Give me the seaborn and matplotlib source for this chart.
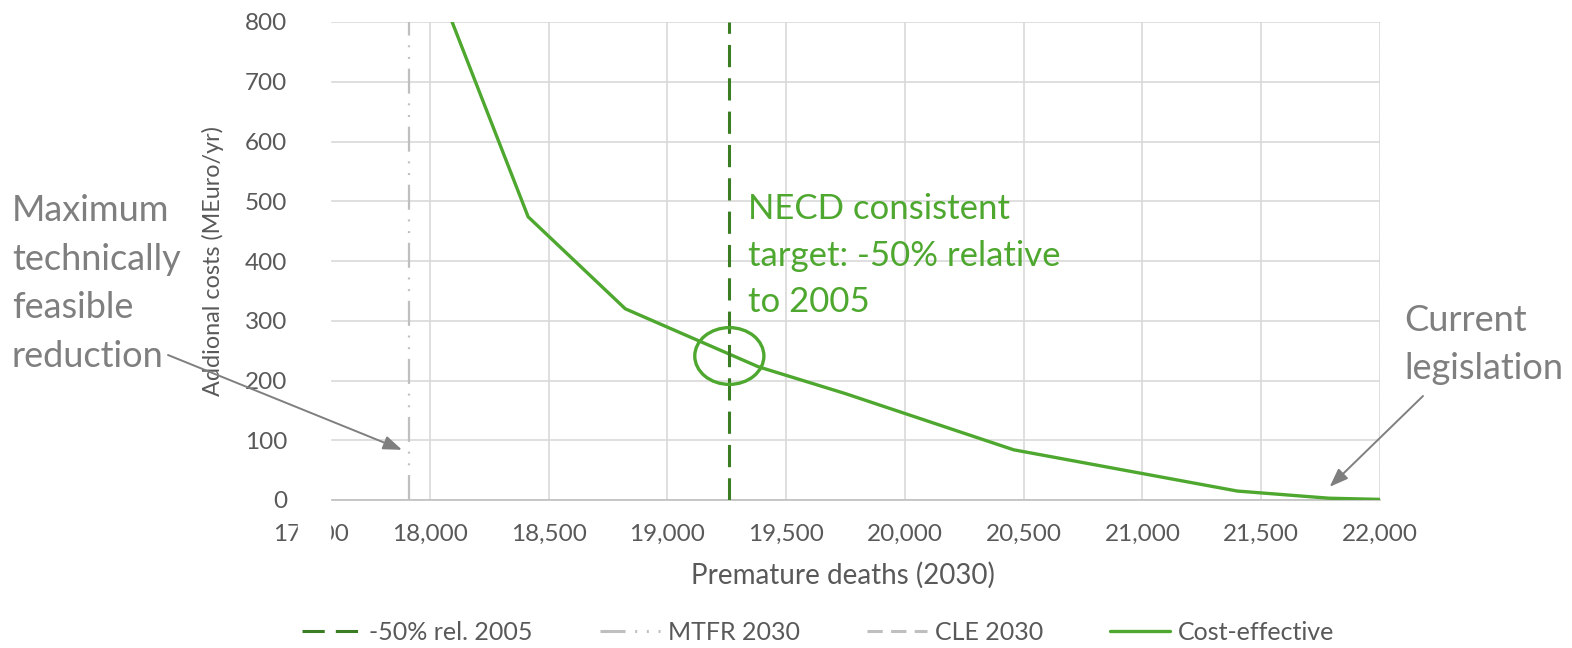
import matplotlib
matplotlib.use("Agg")
import matplotlib.pyplot as plt
import numpy as np
import pandas as pd
import seaborn as sns
from matplotlib.patches import Ellipse, Rectangle
from matplotlib.lines import Line2D

# ---- data ----
deaths = [17990, 18414, 18823, 19383, 19750, 20458, 21399, 21785, 22000]
costs = [906, 474, 320, 223, 178, 84, 15, 3, 1]
target_50 = 19261
mtfr_2030 = 17913
cle_2030 = 22000
x_ticks = list(range(17500, 22001, 500))
y_ticks = list(range(0, 801, 100))
legend_labels = ["-50% rel. 2005", "MTFR 2030", "CLE 2030", "Cost-effective"]

sns.set_theme(style="whitegrid")
plt.rcParams['font.family'] = ['Lato', 'DejaVu Sans']
plt.rcParams['lines.scale_dashes'] = False

GREEN = "#4EA72E"
DKGREEN = "#3B7D23"
LGRAY = "#BFBFBF"
TXT = "#595959"
ANN = "#7F7F7F"

W, H = 1572, 648
fig = plt.figure(figsize=(W / 100, H / 100), dpi=100)
ax = fig.add_axes([311 / W, 1 - 500 / H, (1380 - 311) / W, (500 - 22) / H])

df = pd.DataFrame({"deaths": deaths, "costs": costs})
sns.lineplot(data=df, x="deaths", y="costs", ax=ax, color=GREEN, lw=2.4,
             sort=False, zorder=3)

ax.axvline(target_50, color=DKGREEN, lw=2.2, dashes=(16, 8), zorder=3)
ax.axvline(mtfr_2030, color=LGRAY, lw=1.6, dashes=(18, 7, 1.4, 7, 1.4, 7), zorder=3)
# CLE line sits on the right border, hidden under the border gridline as in the original
ax.axvline(cle_2030, color=LGRAY, lw=0.8, dashes=(11, 6), zorder=0.4)

ax.set_xlim(17500, 22000)
ax.set_ylim(0, 800)
ax.set_xticks(x_ticks)
ax.set_yticks(y_ticks)
ax.xaxis.set_major_formatter(matplotlib.ticker.FuncFormatter(lambda v, p: f"{int(v):,}"))
ax.grid(True, color="#D9D9D9", lw=1.2)
for s in ["left", "right", "top"]:
    ax.spines[s].set_visible(False)
ax.spines["bottom"].set_color(LGRAY)
ax.spines["bottom"].set_linewidth(1.2)
ax.tick_params(axis="both", length=0, labelsize=17.5, colors=TXT)
ax.tick_params(axis="y", pad=17)
ax.tick_params(axis="x", pad=17)

ax.set_ylabel("Addional costs (MEuro/yr)", fontsize=16.8, color=TXT)
ax.yaxis.set_label_coords((224 - 311) / (1380 - 311), 0.5)
ax.set_xlabel("Premature deaths (2030)", fontsize=20, color=TXT)
ax.xaxis.set_label_coords((843 - 311) / (1380 - 311), -(575 - 500) / 478)
ax.xaxis.label.set_va("center")

# white cover left of plot area
ax.add_patch(Rectangle((298 / W, 1 - 548 / H), 32 / W, 548 / H,
                       transform=fig.transFigure, color="white",
                       clip_on=False, zorder=4))

# ellipse around target crossing
ax.add_patch(Ellipse((target_50, 241), 291, 95, fill=False, ec=GREEN, lw=2.4, zorder=5))

# annotations
fig.text(12 / W, 1 - 194 / H, "Maximum\ntechnically\nfeasible\nreduction",
         fontsize=26, color=ANN, ha="left", va="top", linespacing=1.58)
fig.text(748 / W, 1 - 193 / H, "NECD consistent\ntarget: -50% relative\nto 2005",
         fontsize=25, color=GREEN, ha="left", va="top", linespacing=1.56)
fig.text(1404 / W, 1 - 304 / H, "Current\nlegislation",
         fontsize=26, color=ANN, ha="left", va="top", linespacing=1.55)

arrowprops = dict(arrowstyle="-|>,head_length=0.75,head_width=0.28", color=ANN,
                  lw=1.4, shrinkA=0, shrinkB=0, mutation_scale=15)
ax.annotate("", xy=(17883, 84), xycoords="data", xytext=(168, H - 355),
            textcoords="figure pixels", arrowprops=arrowprops,
            annotation_clip=False, zorder=6)
ax.annotate("", xy=(21788, 22), xycoords="data", xytext=(1423, H - 396),
            textcoords="figure pixels", arrowprops=arrowprops,
            annotation_clip=False, zorder=6)

handles = [
    Line2D([], [], color=DKGREEN, lw=2.2, dashes=(16, 8)),
    Line2D([], [], color=LGRAY, lw=2.2, dashes=(18, 7, 1.4, 7, 1.4, 7)),
    Line2D([], [], color=LGRAY, lw=2.2, dashes=(11, 6)),
    Line2D([], [], color=GREEN, lw=2.4),
]
leg = fig.legend(handles, legend_labels, ncol=4, loc="center",
                 bbox_to_anchor=(818 / W, 1 - 632 / H), frameon=False,
                 fontsize=18, handlelength=2.4, handletextpad=0.3,
                 columnspacing=2.7, labelcolor=TXT)

fig.savefig("out.png", dpi=100, facecolor="white")
